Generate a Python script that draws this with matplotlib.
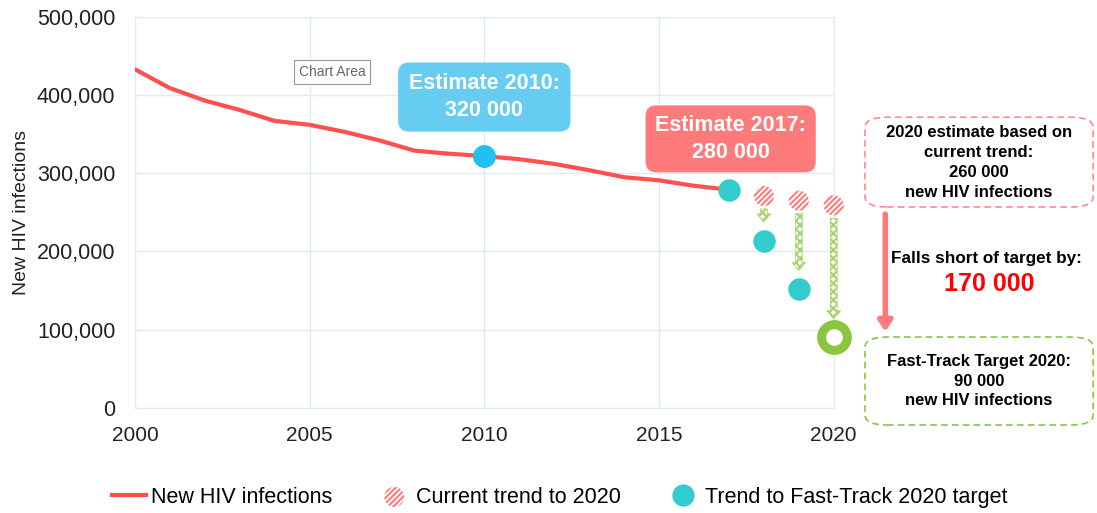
import matplotlib.pyplot as plt
from matplotlib.lines import Line2D
from matplotlib.patches import FancyBboxPatch, FancyArrowPatch
from matplotlib.ticker import FuncFormatter

plt.rcParams['font.family'] = ['Liberation Sans', 'DejaVu Sans']
plt.rcParams['hatch.linewidth'] = 1.5

years = [2000, 2001, 2002, 2003, 2004, 2005, 2006, 2007, 2008, 2009,
         2010, 2011, 2012, 2013, 2014, 2015, 2016, 2017]
infections = [433000, 409000, 393000, 381000, 367000, 362000, 353000, 342000, 329000, 325000,
              322000, 318000, 312000, 304000, 295000, 291000, 284000, 279000]

trend_years = [2018, 2019, 2020]
current_trend = [271000, 265000, 259000]
fast_track = [214000, 152000, 90000]

red = '#FF4F4F'
pink = '#FF7B7B'
teal = '#33CCCC'
green = '#8CC63F'
blue = '#66CCF2'
grid = '#DDEBF7'

fig = plt.figure(figsize=(10.97, 5.13), dpi=100)
ax = fig.add_axes([0.123, 0.205, 0.637, 0.762])

ax.plot(years, infections, color=red, lw=3, solid_capstyle='round', zorder=3)

# markers
ax.scatter([2010], [infections[10]], s=240, color='#22C0F0', zorder=4, clip_on=False)
ax.scatter([2017], [infections[-1]], s=230, color=teal, zorder=4, clip_on=False)
hatched = ax.scatter(trend_years, current_trend, s=210, facecolor='white', edgecolor=pink,
                     hatch='//////', lw=0, zorder=4, clip_on=False)
ax.scatter(trend_years[:2], fast_track[:2], s=230, color=teal, zorder=4, clip_on=False)
ax.plot([2020], [fast_track[2]], marker='o', markersize=18.5, mfc='white', mec=green,
        mew=6.5, zorder=4, clip_on=False)

# green hatched arrows
for x, y0, y1 in zip(trend_years, current_trend, fast_track):
    arr = FancyArrowPatch((x, y0 - 13000), (x, y1 + 20000),
                          arrowstyle='simple,head_width=1.0,head_length=0.6,tail_width=0.5',
                          mutation_scale=10, fc='white', ec='#A5D46A', lw=0.5,
                          hatch='xxxx', zorder=3, clip_on=False)
    ax.add_patch(arr)

ax.set_xlim(2000, 2020)
ax.set_ylim(0, 500000)
ax.set_xticks([2000, 2005, 2010, 2015, 2020])
ax.set_yticks(range(0, 500001, 100000))
ax.yaxis.set_major_formatter(FuncFormatter(lambda v, p: f'{int(v):,}'))
ax.tick_params(length=0, labelsize=15.5, colors='#222222', pad=14)
ax.tick_params(axis='x', labelsize=15, pad=13)
ax.grid(True, color=grid, lw=1)
ax.set_axisbelow(True)
for s in ax.spines.values():
    s.set_color(grid)
ax.set_ylabel('New HIV infections', fontsize=14, color='#222222', labelpad=5)

# estimate labels
ax.text(2010, 397500, 'Estimate 2010:\n320 000', ha='center', va='center', color='white',
        fontsize=15.5, fontweight='bold', linespacing=1.35,
        bbox=dict(boxstyle='round,pad=0.5,rounding_size=0.5', fc=blue, ec='none'), zorder=5)
ax.text(2017.05, 344000, 'Estimate 2017:\n280 000', ha='center', va='center', color='white',
        fontsize=15.5, fontweight='bold', linespacing=1.35,
        bbox=dict(boxstyle='round,pad=0.45,rounding_size=0.5', fc=pink, ec='none'), zorder=5)

# chart area tooltip
ax.text(2005.64, 429700, 'Chart Area', ha='center', va='center', fontsize=10, color='#666666',
        bbox=dict(boxstyle='square,pad=0.35', fc='white', ec='#999999', lw=0.8), zorder=5)

# right side boxes
for y, h, ec in [(0.5965, 0.175, '#FF8A8A'), (0.1715, 0.1715, '#8CC63F')]:
    fig.patches.append(FancyBboxPatch((0.7885, y), 0.208, h, transform=fig.transFigure,
                                      boxstyle='round,pad=0,rounding_size=0.02',
                                      fc='white', ec=ec, lw=1.2, linestyle=(0, (4, 2.5))))
fig.text(0.8925, 0.683, '2020 estimate based on\ncurrent trend:\n260 000\nnew HIV infections',
         ha='center', va='center', fontsize=12, fontweight='bold', linespacing=1.4)
fig.text(0.8925, 0.257, 'Fast-Track Target 2020:\n90 000\nnew HIV infections',
         ha='center', va='center', fontsize=12, fontweight='bold', linespacing=1.4)
fig.text(0.899, 0.497, 'Falls short of target by:', ha='center', va='center',
         fontsize=12.3, fontweight='bold')
fig.text(0.902, 0.446, '170 000', ha='center', va='center', fontsize=18,
         fontweight='bold', color='#FF0000')
fig.patches.append(FancyArrowPatch(
    (0.807, 0.588), (0.807, 0.348), transform=fig.transFigure,
    arrowstyle='-|>,head_width=4,head_length=6', color='#FF7B7B', lw=4, mutation_scale=1))

# legend
handles = [
    Line2D([], [], color=red, lw=3),
    hatched,
    Line2D([], [], marker='o', ls='none', markersize=15, color=teal),
]
fig.legend(handles, ['New HIV infections', 'Current trend to 2020',
                     'Trend to Fast-Track 2020 target'],
           loc='center', bbox_to_anchor=(0.51, 0.031), ncol=3, frameon=False,
           fontsize=15.5, handlelength=1.6, handletextpad=0.2, columnspacing=2.1,
           scatterpoints=1)

fig.savefig('out.png', dpi=100)
